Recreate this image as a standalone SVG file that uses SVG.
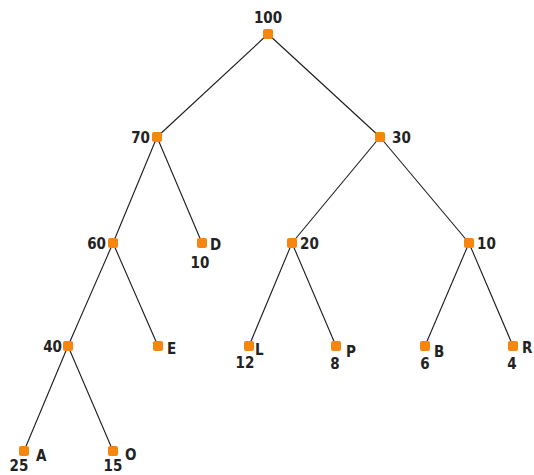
<svg xmlns="http://www.w3.org/2000/svg" width="534" height="475" viewBox="0 0 534 475">
<style>
.e{stroke:#1a1a1a;stroke-width:1.1;fill:none}
.n{fill:#f7860f}
text{font-family:"DejaVu Sans Condensed","DejaVu Sans",sans-serif;font-weight:bold;font-size:15px;fill:#222}
</style>
<rect width="534" height="475" fill="#fff"/>
<g id="connectors">
<line class="e" x1="268" y1="34" x2="157" y2="137"/>
<line class="e" x1="268" y1="34" x2="380" y2="137"/>
<line class="e" x1="157" y1="137" x2="113" y2="243"/>
<line class="e" x1="157" y1="137" x2="202" y2="243"/>
<line class="e" x1="380" y1="137" x2="292" y2="243"/>
<line class="e" x1="380" y1="137" x2="469" y2="243"/>
<line class="e" x1="113" y1="243" x2="68" y2="346"/>
<line class="e" x1="113" y1="243" x2="158" y2="346"/>
<line class="e" x1="292" y1="243" x2="249" y2="346"/>
<line class="e" x1="292" y1="243" x2="336" y2="346"/>
<line class="e" x1="469" y1="243" x2="425" y2="346"/>
<line class="e" x1="469" y1="243" x2="513" y2="346"/>
<line class="e" x1="68" y1="346" x2="24" y2="451"/>
<line class="e" x1="68" y1="346" x2="113" y2="451"/>
</g>
<g id="n100"><rect class="n" x="263" y="29" width="10" height="10" rx="2"/><text x="268" y="23" text-anchor="middle">100</text></g>
<g id="n70"><rect class="n" x="152" y="132" width="10" height="10" rx="2"/><text x="150" y="143" text-anchor="end">70</text></g>
<g id="n30"><rect class="n" x="375" y="132" width="10" height="10" rx="2"/><text x="392" y="143">30</text></g>
<g id="n60"><rect class="n" x="108" y="238" width="10" height="10" rx="2"/><text x="106" y="249" text-anchor="end">60</text></g>
<g id="nD"><rect class="n" x="197" y="238" width="10" height="10" rx="2"/><text x="210" y="250">D</text><text x="200" y="268" text-anchor="middle">10</text></g>
<g id="n20"><rect class="n" x="287" y="238" width="10" height="10" rx="2"/><text x="300" y="249">20</text></g>
<g id="n10"><rect class="n" x="464" y="238" width="10" height="10" rx="2"/><text x="477" y="249">10</text></g>
<g id="n40"><rect class="n" x="63" y="341" width="10" height="10" rx="2"/><text x="62" y="352" text-anchor="end">40</text></g>
<g id="nE"><rect class="n" x="153" y="341" width="10" height="10" rx="2"/><text x="167" y="354">E</text></g>
<g id="nL"><rect class="n" x="244" y="341" width="10" height="10" rx="2"/><text x="255" y="355">L</text><text x="245" y="368" text-anchor="middle">12</text></g>
<g id="nP"><rect class="n" x="331" y="341" width="10" height="10" rx="2"/><text x="346" y="357">P</text><text x="335" y="369" text-anchor="middle">8</text></g>
<g id="nB"><rect class="n" x="420" y="341" width="10" height="10" rx="2"/><text x="434" y="357">B</text><text x="425" y="369" text-anchor="middle">6</text></g>
<g id="nR"><rect class="n" x="508" y="341" width="10" height="10" rx="2"/><text x="522" y="353">R</text><text x="512" y="369" text-anchor="middle">4</text></g>
<g id="nA"><rect class="n" x="19" y="446" width="10" height="10" rx="2"/><text x="36" y="461">A</text><text x="19" y="471" text-anchor="middle">25</text></g>
<g id="nO"><rect class="n" x="108" y="446" width="10" height="10" rx="2"/><text x="125" y="460">O</text><text x="113" y="471" text-anchor="middle">15</text></g>
</svg>
